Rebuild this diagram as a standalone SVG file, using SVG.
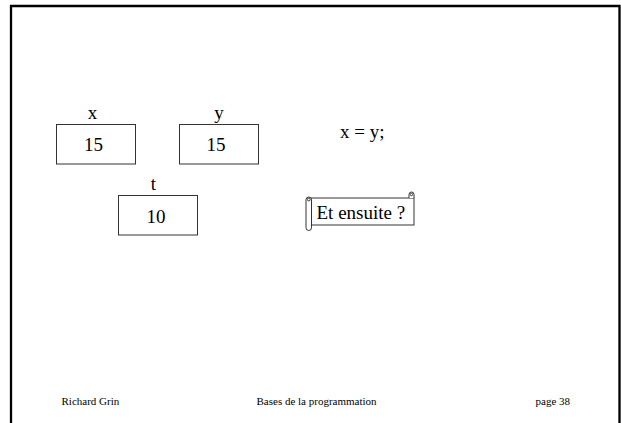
<svg xmlns="http://www.w3.org/2000/svg" width="621" height="423" viewBox="0 0 621 423">
<style>
.t{font-family:"Liberation Serif","Times New Roman",serif;fill:#000}
.big{font-size:19px}
.small{font-size:11px}
.box{fill:#fff;stroke:#333;stroke-width:1}
.scroll{fill:#fff;stroke:#333;stroke-width:1}
</style>
<rect x="0" y="0" width="621" height="423" fill="#fff"/>
<path d="M11,424 V6 H619.5 V424" fill="none" stroke="#000" stroke-width="2.3"/>
<g id="var-x">
<text class="t big" x="92.5" y="119" text-anchor="middle">x</text>
<rect class="box" x="56.5" y="124.5" width="79" height="39.5"/>
<text class="t big" x="93.5" y="150.5" text-anchor="middle">15</text>
</g>
<g id="var-y">
<text class="t big" x="219" y="119" text-anchor="middle">y</text>
<rect class="box" x="179.5" y="124.5" width="79" height="39.5"/>
<text class="t big" x="216" y="150.5" text-anchor="middle">15</text>
</g>
<g id="var-t">
<text class="t big" x="153.5" y="190" text-anchor="middle">t</text>
<rect class="box" x="118.5" y="195.5" width="79" height="39.5"/>
<text class="t big" x="156" y="223" text-anchor="middle">10</text>
</g>
<g id="code">
<text class="t big" x="340" y="137.5">x = y;</text>
</g>
<g id="scroll">
<rect class="scroll" x="311" y="198" width="103" height="27"/>
<path class="scroll" d="M409,198 V194.5 A2.5,2.5 0 0 1 414,194.5 V198"/>
<circle class="scroll" cx="411.5" cy="194.5" r="1.2"/>
<rect class="scroll" x="306" y="197" width="5.5" height="33.5" rx="2.75"/>
<circle class="scroll" cx="308.8" cy="199.5" r="1.4"/>
<text class="t big" x="316.5" y="218.5">Et ensuite ?</text>
</g>
<g id="footer">
<text class="t small" x="61.5" y="405">Richard Grin</text>
<text class="t small" x="256.5" y="405">Bases de la programmation</text>
<text class="t small" x="535.5" y="405">page 38</text>
</g>
<g id="connectors"></g>
</svg>
